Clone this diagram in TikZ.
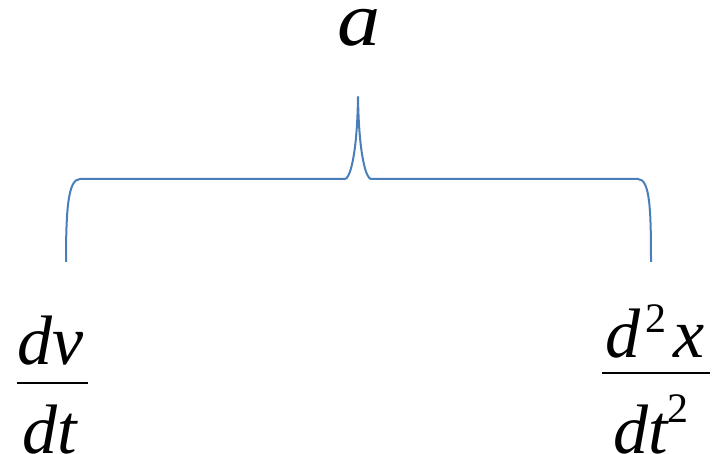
\documentclass[tikz,border=0pt]{standalone}
\usepackage{fontspec}
\usepackage{graphicx}
\setmainfont{Liberation Serif}
\definecolor{braceblue}{RGB}{74,126,187}
\begin{document}
\begin{tikzpicture}[x=1pt,y=-1pt,
  mathtxt/.style={inner sep=0pt,anchor=base,font=\fontsize{70}{72}\selectfont\itshape},
  bigtxt/.style={inner sep=0pt,anchor=base,font=\fontsize{77}{79}\selectfont\itshape},
  bracel/.style={draw=braceblue,line width=2pt,line join=round},
  barl/.style={line width=2.2pt,draw=black}]
\useasboundingbox (0,0) rectangle (713,454);
% top label
\node[bigtxt] (a) at (359,46) {\scalebox{1.12}[1]{a}};
% brace
\coordinate (bl) at (66,262);
\coordinate (br) at (651,262);
\coordinate (tip) at (358,97);
\draw[bracel] (bl) .. controls (66,210) and (68,179) .. (80,179) -- (345,179)
  .. controls (349,179) and (357,160) .. (tip)
  .. controls (359,160) and (367,179) .. (371,179) -- (638,179)
  .. controls (650,179) and (651,210) .. (br);
% left fraction
\node[mathtxt] (num1) at (51,365) {dv};
\coordinate (b1l) at (17,383);
\coordinate (b1r) at (88,383);
\draw[barl] (b1l) -- (b1r);
\node[mathtxt] (den1) at (50,454) {dt};
% right fraction
\node[mathtxt] (num2) at (655,358) {d\hspace{5pt}\raisebox{25pt}{\fontsize{42}{42}\selectfont\upshape 2}\hspace{7pt}x};
\coordinate (b2l) at (602,373);
\coordinate (b2r) at (710,373);
\draw[barl] (b2l) -- (b2r);
\node[mathtxt] (den2) at (651,454) {dt\raisebox{32pt}{\fontsize{42}{42}\selectfont\upshape 2}};
\end{tikzpicture}
\end{document}
